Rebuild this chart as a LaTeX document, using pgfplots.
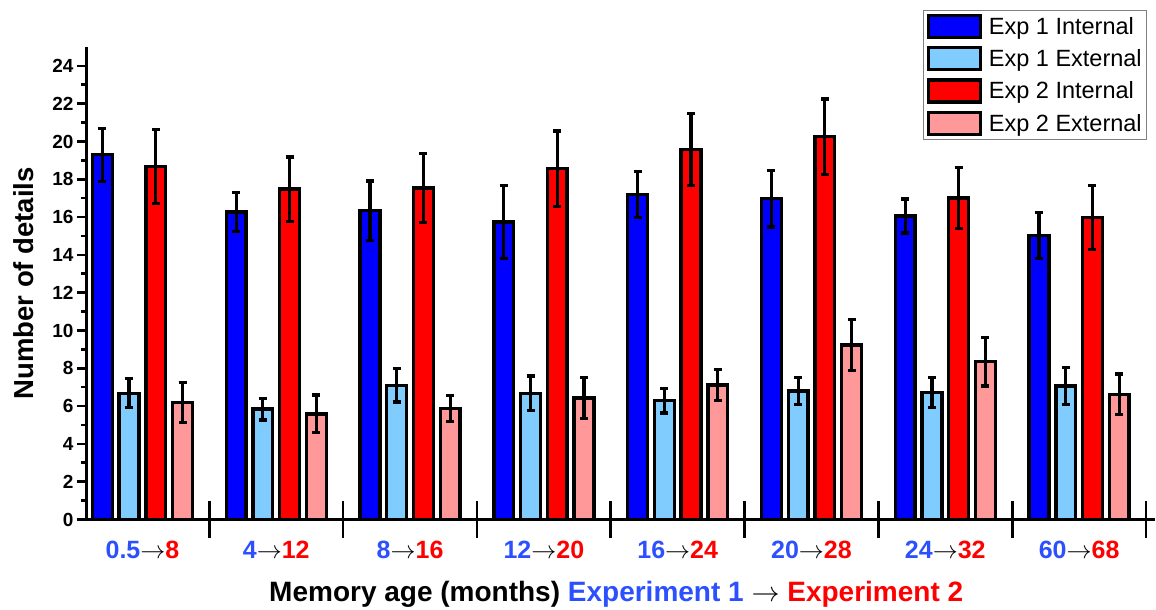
\RequirePackage{fix-cm}
\documentclass[border=0pt]{standalone}
\usepackage{fontspec}
\setmainfont{Liberation Sans}
\usepackage{pgfplots}
\usepackage{pgfplotstable}
\pgfplotsset{compat=1.18}
\definecolor{cBlue}{RGB}{0,0,255}
\definecolor{cLBlue}{RGB}{128,204,255}
\definecolor{cRed}{RGB}{255,0,0}
\definecolor{cPink}{RGB}{255,153,153}
\definecolor{tBlue}{RGB}{45,80,255}
\definecolor{tRed}{RGB}{255,0,0}

\pgfplotstableread{
x b be lb lbe r re p pe
0 19.30 1.40 6.68 0.77 18.68 1.95 6.19 1.04
1 16.28 1.04 5.84 0.58 17.48 1.70 5.59 1.00
2 16.34 1.57 7.10 0.88 17.54 1.83 5.86 0.69
3 15.74 1.92 6.68 0.91 18.56 2.00 6.43 1.09
4 17.20 1.23 6.29 0.65 19.59 1.90 7.12 0.83
5 16.97 1.49 6.80 0.70 20.25 2.00 9.23 1.36
6 16.06 0.90 6.73 0.79 17.01 1.62 8.35 1.29
7 15.04 1.21 7.06 0.99 15.97 1.69 6.62 1.08
}\data

\pgfplotsset{
  mybar/.style={ybar, bar width=0.148, bar shift=0pt, draw=black, line width=3.4pt,
    error bars/y dir=both, error bars/y explicit,
    error bars/error bar style={line width=3.2pt, black},
    error bars/error mark options={rotate=90, black, line width=3.2pt, mark size=4pt}},
}

\begin{document}
\begin{tikzpicture}[x=1pt,y=1pt]
\useasboundingbox (0,0) rectangle (1156,610);
\begin{axis}[
  at={(86pt,90.5pt)}, anchor=south west,
  scale only axis, width=1069pt, height=472.5pt,
  xmin=-0.422, xmax=7.567, ymin=0, ymax=25,
  axis x line*=bottom, axis y line*=left,
  axis line style={line width=3pt, -},
  ytick={0,2,...,24}, minor y tick num=1,
  tick align=outside, major tick length=9pt, minor tick length=5pt,
  tick style={line width=2.6pt, black},
  yticklabel style={font=\fontsize{19}{19}\selectfont\bfseries},
  /pgf/number format/assume math mode=true,
  xtick={0,...,7},
  xticklabels={
    {\textcolor{tBlue}{0.5}$\rightarrow$\textcolor{tRed}{8}},
    {\textcolor{tBlue}{4}$\rightarrow$\textcolor{tRed}{12}},
    {\textcolor{tBlue}{8}$\rightarrow$\textcolor{tRed}{16}},
    {\textcolor{tBlue}{12}$\rightarrow$\textcolor{tRed}{20}},
    {\textcolor{tBlue}{16}$\rightarrow$\textcolor{tRed}{24}},
    {\textcolor{tBlue}{20}$\rightarrow$\textcolor{tRed}{28}},
    {\textcolor{tBlue}{24}$\rightarrow$\textcolor{tRed}{32}},
    {\textcolor{tBlue}{60}$\rightarrow$\textcolor{tRed}{68}}},
  xtick style={draw=none},
  xticklabel style={font=\fontsize{25}{25}\selectfont\bfseries, anchor=center, yshift=-21.5pt},
  extra x ticks={0.5,1.5,...,7.5},
  extra x tick labels={},
  extra x tick style={xtick style={draw=black}, major tick length=36pt, tick align=center},
  ylabel={Number of details},
  ylabel style={at={(axis description cs:-0.058,0.5)}, anchor=center, font=\fontsize{27.5}{28}\selectfont\bfseries},
  xlabel={Memory age (months) \textcolor{tBlue}{Experiment 1} $\rightarrow$ \textcolor{tRed}{Experiment 2}},
  xlabel style={at={(axis description cs:0.496,-0.159)}, anchor=center, font=\fontsize{28}{28}\selectfont\bfseries},
  legend style={at={(axis description cs:0.783,1.078)}, anchor=north west,
    draw=gray, line width=1pt, font=\fontsize{23.5}{24}\selectfont,
    row sep=7pt, column sep=5pt, inner xsep=3pt, inner ysep=3pt},
  legend cell align=left,
  legend image code/.code={\draw[#1, line width=3.4pt] (0pt,-11pt) rectangle (52pt,11pt);},
]
\addplot[mybar, fill=cBlue] table[x expr=\thisrow{x}-0.3, y=b, y error=be]{\data};
\addplot[mybar, fill=cLBlue] table[x expr=\thisrow{x}-0.1, y=lb, y error=lbe]{\data};
\addplot[mybar, fill=cRed] table[x expr=\thisrow{x}+0.1, y=r, y error=re]{\data};
\addplot[mybar, fill=cPink] table[x expr=\thisrow{x}+0.3, y=p, y error=pe]{\data};
\legend{Exp 1 Internal, Exp 1 External, Exp 2 Internal, Exp 2 External}
\end{axis}
\end{tikzpicture}
\end{document}
